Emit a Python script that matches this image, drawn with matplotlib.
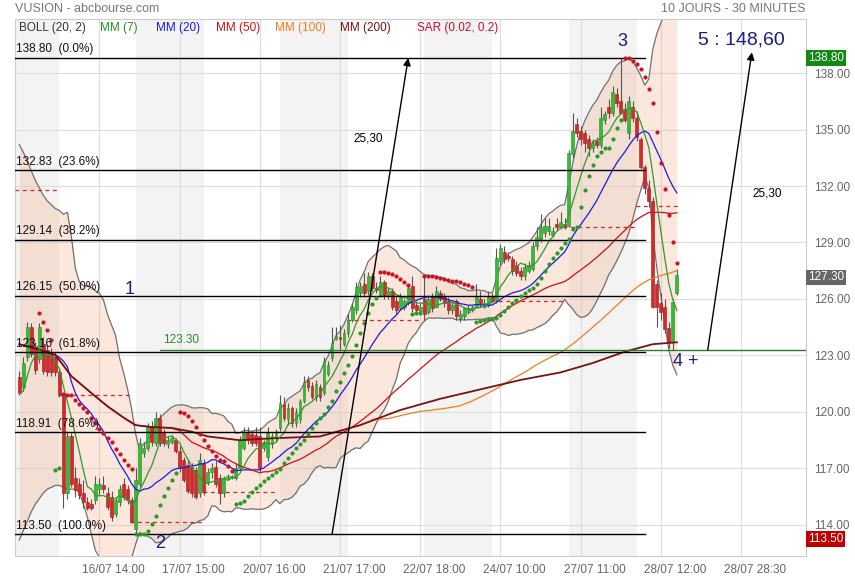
import numpy as np
import pandas as pd
import matplotlib
matplotlib.use("Agg")
import matplotlib.pyplot as plt
import matplotlib.transforms as mtransforms

plt.rcParams['font.family'] = ['Liberation Sans', 'DejaVu Sans']

# 30 minute bars, 10 sessions (first and last sessions are partial)
opens = [
    121.85, 121.3, 122.9, 124.5, 123.45, 122.8, 123.6, 123.3, 123.1, 122.9, 122.1,
    120.9, 115.7, 118.7, 116.5, 116.2, 115.7, 115.2, 115.1, 115.3, 115.9, 116.1, 115.7, 115.5, 114.6, 115.2, 116.2, 115.9, 115.3,
    113.8, 116.2, 117.8, 118.1, 119.2, 118.35, 119.7, 118.9, 118.3, 118.4, 118.5, 117.95, 117.45, 117.2, 117.1, 116.9, 115.7, 117.3,
    116.3, 116.8, 117.1, 116.5, 115.7, 116.5, 116.55, 116.5, 117.0, 118.1, 118.9, 118.85, 118.8, 118.7, 118.1, 117.6, 118.3, 118.6,
    119.15, 120.4, 119.6, 120.2, 119.4, 119.6, 120.6, 121.7, 121.4, 120.8, 121.35, 121.0, 122.0, 122.85, 123.9, 124.0, 123.6, 124.2,
    124.9, 125.4, 126.3, 126.8, 126.4, 127.2, 126.6, 126.2, 126.9, 126.2, 126.4, 125.9, 125.5, 125.6, 125.8, 126.7, 125.7, 125.35,
    126.0, 125.3, 126.1, 125.6, 126.3, 126.1, 125.9, 125.4, 125.9, 125.0, 125.1, 125.3, 125.4, 125.6, 126.0, 125.6, 125.7, 126.1,
    125.95, 128.0, 128.5, 128.3, 128.1, 127.8, 127.5, 127.2, 127.5, 127.6, 128.8, 129.2, 129.5, 129.6, 129.4, 130.0, 129.8, 130.0,
    129.9, 133.7, 135.3, 134.9, 134.8, 134.5, 134.0, 134.4, 134.2, 135.5, 136.2, 135.9, 136.9, 136.5, 136.1, 134.8, 136.2, 135.6,
    134.5, 133.0, 131.9, 131.2, 126.8, 125.8, 125.6, 124.45, 123.7, 126.3,
]
highs = [
    122.2, 122.9, 124.8, 124.7, 123.7, 124.7, 124.0, 123.6, 123.4, 123.2, 122.3,
    120.9, 119.0, 118.9, 117.1, 116.5, 116.4, 115.5, 115.4, 116.6, 116.5, 116.6, 116.0, 115.8, 115.5, 116.1, 116.5, 116.1, 115.5,
    117.0, 118.6, 118.4, 119.4, 119.5, 120.0, 119.9, 119.1, 118.7, 118.8, 118.6, 118.2, 117.6, 117.5, 117.3, 117.1, 117.8, 117.5,
    117.0, 117.3, 117.4, 116.7, 116.6, 116.7, 116.65, 117.3, 118.7, 119.2, 119.2, 119.0, 119.2, 119.2, 118.5, 119.2, 118.9, 119.1,
    120.9, 120.8, 120.5, 120.3, 120.2, 120.7, 121.9, 121.9, 121.6, 121.7, 121.5, 122.9, 122.7, 124.5, 124.5, 124.6, 124.4, 125.2,
    125.8, 126.9, 126.9, 127.4, 127.45, 127.4, 126.9, 127.2, 127.0, 126.6, 126.6, 126.2, 126.3, 126.0, 126.7, 127.2, 125.9, 125.8,
    127.2, 126.2, 126.3, 126.7, 126.5, 126.3, 126.1, 125.9, 126.0, 125.4, 125.6, 125.7, 125.7, 126.8, 126.4, 126.0, 126.4, 126.3,
    128.7, 128.9, 128.8, 128.5, 128.3, 128.0, 127.7, 127.9, 128.0, 129.0, 129.8, 130.5, 130.3, 130.3, 129.8, 130.3, 130.6, 130.3,
    133.9, 135.9, 135.6, 135.2, 135.0, 134.7, 134.5, 134.6, 136.2, 136.0, 136.6, 137.3, 137.2, 138.8, 136.4, 136.8, 136.5, 136.0,
    134.6, 133.1, 132.3, 131.4, 127.0, 126.3, 126.0, 124.8, 126.0, 127.6,
]
lows = [
    120.9, 121.1, 122.7, 122.9, 122.0, 122.6, 122.0, 121.9, 121.9, 121.9, 120.8,
    114.9, 115.4, 116.0, 115.5, 115.4, 114.9, 114.8, 114.8, 115.1, 115.6, 115.7, 114.8, 114.2, 114.4, 115.0, 115.3, 115.1, 114.1,
    113.5, 116.0, 117.6, 117.9, 118.2, 118.2, 118.2, 118.2, 118.1, 118.3, 117.8, 116.8, 116.3, 115.7, 115.5, 115.4, 115.5, 115.6,
    116.1, 116.5, 116.0, 115.1, 115.5, 116.4, 116.45, 116.4, 116.9, 118.0, 118.3, 118.2, 118.2, 116.8, 117.9, 117.4, 118.1, 118.4,
    119.0, 119.5, 119.3, 119.2, 119.2, 119.4, 120.5, 121.1, 120.7, 120.6, 120.6, 120.9, 121.9, 122.7, 123.8, 123.3, 123.5, 124.0,
    124.8, 125.2, 126.1, 126.1, 126.2, 126.4, 126.3, 126.1, 126.0, 126.0, 125.4, 125.2, 125.4, 125.4, 125.7, 125.3, 125.3, 125.3,
    124.9, 125.2, 125.3, 125.5, 125.9, 125.6, 125.2, 125.2, 124.9, 124.8, 124.9, 125.2, 125.3, 125.5, 125.6, 125.5, 125.6, 125.8,
    125.8, 127.8, 127.9, 128.0, 127.3, 127.2, 127.0, 127.0, 127.4, 127.5, 128.6, 129.0, 129.3, 129.4, 129.3, 129.6, 129.7, 129.7,
    129.8, 133.5, 134.6, 134.2, 133.8, 133.6, 133.8, 134.0, 134.0, 135.3, 135.6, 135.7, 136.2, 135.8, 135.4, 134.5, 135.4, 134.4,
    132.9, 131.6, 130.9, 125.5, 124.5, 124.9, 124.2, 123.4, 123.3, 126.2,
]
closes = [
    121.0, 122.6, 124.5, 123.1, 122.25, 124.5, 122.2, 122.1, 122.1, 122.1, 120.9,
    115.7, 118.7, 116.2, 115.85, 115.6, 115.2, 114.9, 114.9, 116.2, 116.2, 115.9, 114.95, 114.4, 115.3, 115.9, 115.5, 115.3, 114.15,
    116.4, 118.35, 118.1, 119.2, 118.4, 119.7, 118.35, 118.35, 118.5, 118.6, 117.95, 117.0, 116.4, 115.8, 115.7, 115.5, 117.45, 115.75,
    116.8, 117.0, 116.2, 115.7, 116.5, 116.6, 116.62, 117.0, 118.5, 118.9, 118.5, 118.35, 118.35, 117.0, 118.4, 118.9, 118.7, 118.9,
    120.5, 119.7, 120.2, 119.4, 120.0, 120.6, 121.6, 121.3, 120.8, 121.5, 120.8, 122.7, 122.5, 123.65, 124.05, 123.85, 124.2, 124.9,
    125.6, 126.65, 126.7, 126.3, 127.2, 126.6, 126.5, 126.9, 126.2, 126.4, 125.6, 125.4, 126.1, 125.9, 126.6, 125.5, 125.4, 125.6,
    125.2, 126.0, 125.5, 126.4, 126.0, 125.8, 125.4, 125.7, 125.1, 125.2, 125.5, 125.5, 125.6, 126.1, 125.8, 125.8, 126.1, 125.9,
    128.2, 128.7, 128.1, 128.2, 127.5, 127.4, 127.2, 127.7, 127.8, 128.8, 129.3, 129.8, 129.9, 129.9, 129.6, 129.8, 130.1, 129.85,
    133.74, 134.9, 134.8, 134.5, 134.3, 134.0, 134.3, 134.2, 135.6, 135.8, 135.9, 137.0, 136.4, 135.9, 135.5, 136.5, 135.6, 134.6,
    133.0, 131.9, 131.2, 125.6, 125.6, 125.3, 124.4, 123.7, 125.85, 127.3,
]

# sessions: first bar index of each session, 18 bars a session
day_first = [-7, 11, 29, 47, 65, 83, 101, 119, 137, 155]
day_len = 18
grey_days = [0, 2, 4, 6, 8]
dash_days = [0, 1, 2, 3, 4, 5, 7, 8, 9]
dash_vals = [131.8, 120.9, 114.15, 115.75, 118.94, 124.88, 125.9, 129.82, 130.96]

fib_vals = [138.80, 132.83, 129.14, 126.15, 123.16, 118.91, 113.50]
fib_pcts = ["0.0%", "23.6%", "38.2%", "50.0%", "61.8%", "78.6%", "100.0%"]
support = 123.30

# indicator values read off the chart where the window has no history yet
mm7_head = [121.0, 121.1, 121.9, 122.6, 123.0, 123.3]
mm20_head = [123.6, 123.55, 123.5, 123.45, 123.4, 123.3, 123.25, 123.2, 123.1, 123.03,
             122.9, 122.7, 122.4, 121.6, 121.0, 120.6, 120.35, 120.15, 119.9]
bb_up_head = [134.2, 133.8, 133.3, 132.8, 132.3, 131.9, 131.5, 131.2, 131.0, 130.8,
              130.7, 130.5, 130.6, 129.3, 127.6, 126.9, 126.7, 126.7, 126.6]
bb_lo_head = [113.2, 113.7, 114.2, 114.7, 115.1, 115.4, 115.7, 115.9, 116.0, 116.1,
              116.1, 116.0, 115.9, 115.9, 115.9, 115.7, 115.1, 114.4, 113.5]
mm200_x = [0, 5, 9, 13, 18, 22, 26, 29, 33, 38, 43, 47, 55, 63, 75, 85, 95, 105,
           115, 125, 135, 143, 151, 158, 164]
mm200_v = [123.6, 123.3, 123.03, 121.9, 121.0, 120.3, 119.7, 119.3, 119.2, 119.15, 118.95,
           118.7, 118.5, 118.6, 118.7, 119.3, 120.1, 120.7, 121.2, 121.7, 122.1, 122.6,
           123.2, 123.6, 123.7]
mm50_head_x = [0, 5, 9, 13, 18, 22, 26, 29, 33, 38, 40, 43, 46]
mm50_head_v = [123.6, 123.3, 123.03, 121.9, 121.0, 120.3, 119.7, 119.3, 119.2, 119.15,
               119.0, 118.4, 118.1]
mm100_head_x = [88, 92, 95, 98]
mm100_head_v = [119.6, 119.65, 119.8, 119.95]
sar_head_x = [5, 6, 7, 8, 9, 10]
sar_head_v = [125.24, 124.8, 124.35, 123.8, 116.9, 117.0]
sar_head_up = [False, False, False, False, True, True]
sar_start = 11
sar_state = (-1, 120.95, 114.9, 0.04)   # trend, sar, extreme point, factor

grid_x = [20, 40, 60, 80, 100, 120, 140, 160, 180]
xlabels = ["16/07 14:00", "17/07 15:00", "20/07 16:00", "21/07 17:00", "22/07 18:00",
           "24/07 10:00", "27/07 11:00", "28/07 12:00", "28/07 28:30"]
yticks = [114, 117, 120, 123, 126, 129, 132, 135, 138]


def parabolic_sar(hi, lo, start, trend, sar, ep, af, step=0.02, top=0.2):
    vals, ups = [], []
    for t in range(start, len(hi)):
        if t > start:
            sar = sar + af * (ep - sar)
            prev = [k for k in (t - 1, t - 2) if k >= start]
            if trend > 0:
                sar = min([sar] + [lo[k] for k in prev])
            else:
                sar = max([sar] + [hi[k] for k in prev])
        if trend > 0:
            if hi[t] > ep:
                ep = hi[t]
                af = min(af + step, top)
            if lo[t] < sar:
                trend, sar, ep, af = -1, ep, lo[t], step
        else:
            if lo[t] < ep:
                ep = lo[t]
                af = min(af + step, top)
            if hi[t] > sar:
                trend, sar, ep, af = 1, ep, hi[t], step
        vals.append(sar)
        ups.append(trend > 0)
    return vals, ups


n = len(closes)
idx = np.arange(n)
o = np.array(opens)
h = np.array(highs)
l = np.array(lows)
c = np.array(closes)
cs = pd.Series(closes)

mm7 = cs.rolling(7).mean().to_numpy()
mm7[:6] = mm7_head
mid = cs.rolling(20).mean()
sd = cs.rolling(20).std(ddof=0)
bb_up = (mid + 2 * sd).to_numpy()
bb_lo = (mid - 2 * sd).to_numpy()
mm20 = mid.to_numpy()
mm20[:19] = mm20_head
bb_up[:19] = bb_up_head
bb_lo[:19] = bb_lo_head
mm50 = cs.rolling(50).mean().to_numpy()
mm100 = cs.rolling(100).mean().to_numpy()

sar_v, sar_up = parabolic_sar(highs, lows, sar_start, *sar_state)
sar_x = np.array(sar_head_x + list(range(sar_start, n)))
sar_v = np.array(sar_head_v + sar_v)
sar_up = np.array(sar_head_up + sar_up)

fig = plt.figure(figsize=(8.55, 5.8), dpi=100)
ax = fig.add_axes([15 / 855, 24 / 580, 791 / 855, 537 / 580])
x0, x1 = -1.07, 196.2
ax.set_xlim(x0, x1)
ax.set_ylim(112.35, 140.87)

for d in grey_days:
    ax.axvspan(day_first[d], day_first[d] + day_len - 1, color='#f3f3f3', lw=0, zorder=0)
for g in grid_x:
    ax.axvline(g, color='#dddddd', lw=0.8, zorder=0.5)
for y in yticks:
    ax.axhline(y, color='#dddddd', lw=0.8, zorder=0.5)

# Bollinger
ax.fill_between(idx, bb_lo, bb_up, color='#f4a37a', alpha=0.25, lw=0, zorder=1)
ax.plot(idx, bb_up, color='#707070', lw=0.9, zorder=2)
ax.plot(idx, bb_lo, color='#707070', lw=0.9, zorder=2)

# previous levels, one per session
for d, v in zip(dash_days, dash_vals):
    a = max(day_first[d] - 1.3, x0)
    b = min(day_first[d] + day_len - 0.8, n - 0.3)
    ax.plot([a, b], [v, v], color='#d02020', lw=0.9, ls=(0, (3, 3)), zorder=3)

# candles
up = c >= o
ax.vlines(idx, l, h, color='#555555', lw=0.8, zorder=4)
body = np.maximum(np.abs(c - o), 0.05)
ax.bar(idx[up], body[up], bottom=o[up], width=0.7, color='#36bb36',
       edgecolor='#2a8a2a', lw=0.4, zorder=5)
ax.bar(idx[~up], body[~up], bottom=c[~up], width=0.7, color='#d42a2a',
       edgecolor='#a01818', lw=0.4, zorder=5)

# moving averages
ax.plot(idx, mm20, color='#1a1ae6', lw=0.9, zorder=6)
ax.plot(mm50_head_x + list(range(49, n)), mm50_head_v + list(mm50[49:]),
        color='#d01010', lw=0.9, zorder=6)
ax.plot(mm100_head_x + list(range(99, n)), mm100_head_v + list(mm100[99:]),
        color='#f07d1a', lw=0.9, zorder=6)
ax.plot(mm200_x, mm200_v, color='#7a1010', lw=1.3, zorder=6.2)
ax.plot(idx, mm7, color='#2e9a2e', lw=0.9, zorder=6.4)

# fibonacci retracement
fib_end = 156
for v, p in zip(fib_vals, fib_pcts):
    ax.plot([x0, fib_end], [v, v], color='black', lw=1, zorder=7)
    ax.annotate(f"{v:.2f}  ({p})", (x0 + 0.3, v), xytext=(0, 2), textcoords='offset points',
                ha='left', va='bottom', fontsize=8.5, color='#111111', zorder=10)
ax.plot([35.1, x1], [support, support], color='#2d7d2d', lw=1, zorder=7)
ax.annotate(f"{support:.2f}", (35.8, support), xytext=(0, 3), textcoords='offset points',
            ha='left', va='bottom', fontsize=8.5, color='#2d8a2d', zorder=10)

# SAR
ax.scatter(sar_x[~sar_up], sar_v[~sar_up], s=9, color='#cc1122', lw=0, zorder=8)
ax.scatter(sar_x[sar_up], sar_v[sar_up], s=9, color='#2a992a', lw=0, zorder=8)

# projections
arrow = dict(arrowstyle='-|>', color='black', lw=1, mutation_scale=11, shrinkA=0, shrinkB=0)
ax.annotate('', xy=(97, 138.8), xytext=(78, 113.5), arrowprops=arrow, zorder=9)
ax.annotate('', xy=(182.7, 139.1), xytext=(171.7, 123.3), arrowprops=arrow, zorder=9)
ax.text(86.95, 134.5, "25,30", fontsize=8.5, ha='center', va='center', zorder=10)
ax.text(186.5, 131.58, "25,30", fontsize=8.5, ha='center', va='center', zorder=10)

navy = '#1c1c80'
ax.text(27.4, 126.53, "1", fontsize=13, color=navy, ha='center', va='center', zorder=10)
ax.text(35.1, 113.04, "2", fontsize=13, color=navy, ha='center', va='center', zorder=10)
ax.text(150.3, 139.65, "3", fontsize=13, color=navy, ha='center', va='center', zorder=10)
ax.text(166.3, 122.7, "4 +", fontsize=13, color=navy, ha='center', va='center', zorder=10)
ax.text(180.0, 139.76, "5 : 148,60", fontsize=14, color=navy, ha='center', va='center', zorder=10)

# axes styling
for s in ax.spines.values():
    s.set_color('#cccccc')
    s.set_linewidth(0.8)
ax.set_xticks([])
ax.yaxis.tick_right()
ax.set_yticks(yticks)
ax.set_yticklabels([f"{y:.2f}" for y in yticks])
ax.tick_params(axis='y', length=0, pad=6, labelsize=8.5, labelcolor='#666666')

trx = mtransforms.blended_transform_factory(ax.transData, ax.transAxes)
for g, lab in zip(grid_x, xlabels):
    ax.text(g + 3.5, -0.026, lab, transform=trx, ha='center', va='center',
            fontsize=8.5, color='#666666', clip_on=False)

# price tags on the right axis (the lowest one sits a little below its level)
try_ = mtransforms.blended_transform_factory(ax.transAxes, ax.transData)
for v, col, dy in [(138.80, '#128a12', 0), (c[-1], '#666666', -2), (113.50, '#c00000', -3.5)]:
    ax.annotate(f"{v:.2f}", (1.0025, v), xycoords=try_, xytext=(0, dy),
                textcoords='offset points', ha='left', va='center', fontsize=8.5,
                color='white', zorder=12, annotation_clip=False,
                bbox=dict(boxstyle='square,pad=0.15', fc=col, ec='none'))

fig.text(15 / 855, 1 - 9 / 580, "VUSION - abcbourse.com", fontsize=9, color='#777777', va='center')
fig.text(805 / 855, 1 - 9 / 580, "10 JOURS - 30 MINUTES", fontsize=9, color='#777777',
         va='center', ha='right')
legend = [("BOLL (20, 2)", 19, '#333333'), ("MM (7)", 100, '#1f8f1f'), ("MM (20)", 156, '#1a1ae6'),
          ("MM (50)", 216, '#d01010'), ("MM (100)", 275, '#f07d1a'), ("MM (200)", 340, '#7a1010'),
          ("SAR (0.02, 0.2)", 417, '#c8102e')]
for txt, px, col in legend:
    fig.text(px / 855, 1 - 28 / 580, txt, fontsize=8.5, color=col, va='center')

fig.savefig("out.png", dpi=100)
